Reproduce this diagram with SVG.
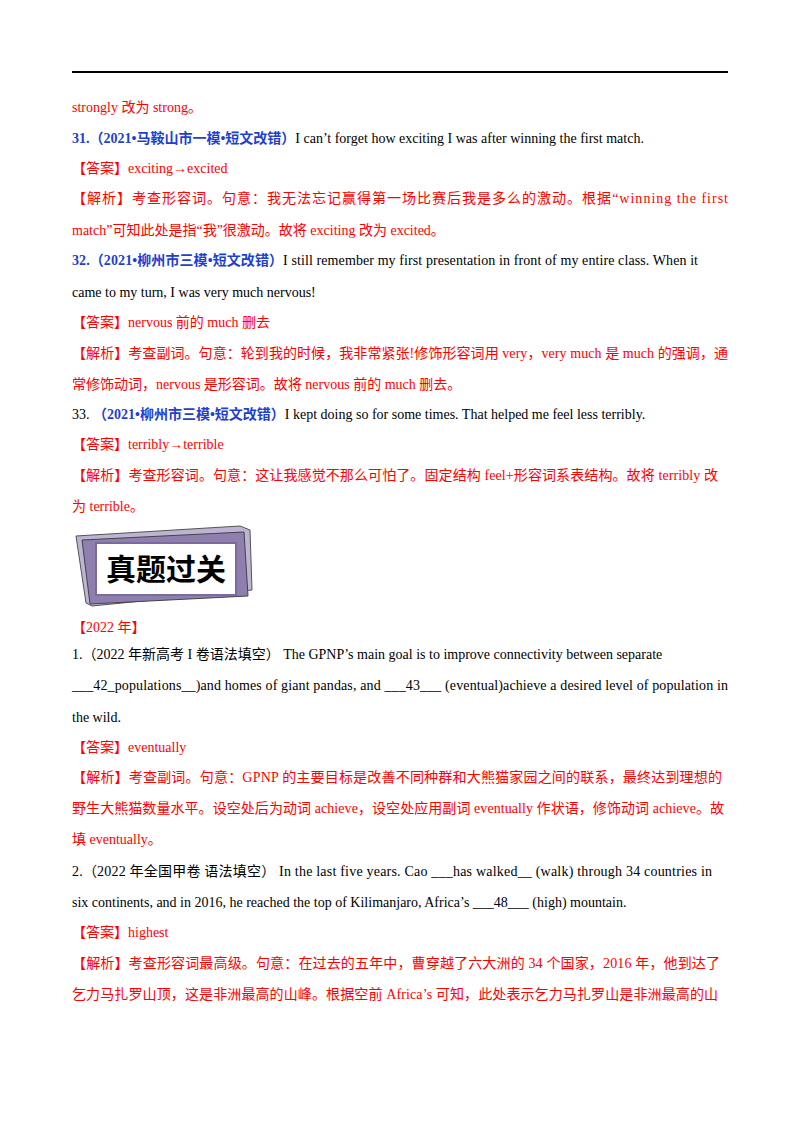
<svg xmlns="http://www.w3.org/2000/svg" width="800" height="1132" viewBox="0 0 800 1132">
<style>
text{font-family:"Liberation Serif","Noto Sans CJK SC",serif;font-size:14px;fill:#000}
.r{fill:#ff0000}
.b{fill:#1f3fd0;font-weight:bold}
</style>
<rect width="800" height="1132" fill="#fff"/>
<line x1="72" y1="72" x2="728" y2="72" stroke="#000" stroke-width="2"/>
<g id="text">
<text class="r" x="72" y="112">strongly 改为 strong。</text>
<text x="72" y="143"><tspan class="b">31.（2021•马鞍山市一模•短文改错）</tspan>I can’t forget how exciting I was after winning the first match.</text>
<text class="r" x="72" y="173">【答案】exciting→excited</text>
<text class="r" x="72" y="203" textLength="656">【解析】考查形容词。句意：我无法忘记赢得第一场比赛后我是多么的激动。根据“winning the first</text>
<text class="r" x="72" y="235">match”可知此处是指“我”很激动。故将 exciting 改为 excited。</text>
<text x="72" y="265" textLength="626"><tspan class="b">32.（2021•柳州市三模•短文改错）</tspan>I still remember my first presentation in front of my entire class. When it</text>
<text x="72" y="297">came to my turn, I was very much nervous!</text>
<text class="r" x="72" y="327">【答案】nervous 前的 much 删去</text>
<text class="r" x="72" y="358" textLength="656">【解析】考查副词。句意：轮到我的时候，我非常紧张!修饰形容词用 very，very much 是 much 的强调，通</text>
<text class="r" x="72" y="389">常修饰动词，nervous 是形容词。故将 nervous 前的 much 删去。</text>
<text x="72" y="419">33.  <tspan class="b">（2021•柳州市三模•短文改错）</tspan>I kept doing so for some times. That helped me feel less terribly.</text>
<text class="r" x="72" y="449">【答案】terribly→terrible</text>
<text class="r" x="72" y="480" textLength="646">【解析】考查形容词。句意：这让我感觉不那么可怕了。固定结构 feel+形容词系表结构。故将 terribly 改</text>
<text class="r" x="72" y="511">为 terrible。</text>
</g>
<g id="banner">
<polygon points="76,536 240,526 250,530 252,590 92,606 86,603" fill="#bdb3d3" stroke="#555" stroke-width="1"/>
<polygon points="82,540 244,532 248,596 90,604" fill="#8e7fae" stroke="#444" stroke-width="1"/>
<rect x="96" y="543" width="140" height="52" fill="#fff" stroke="#7a6a9e" stroke-width="2"/>
<text x="166" y="580" text-anchor="middle" style="font-size:30px;font-weight:bold;font-family:'Noto Sans CJK SC',sans-serif">真题过关</text>
</g>
<g id="text2">
<text class="r" x="72" y="632">【2022 年】</text>
<text x="72" y="659">1.（2022 年新高考 I 卷语法填空）   The GPNP’s main goal is to improve connectivity between separate</text>
<text x="72" y="690" textLength="656">___42_populations__)and homes of giant pandas, and  ___43___  (eventual)achieve a desired level of population in</text>
<text x="72" y="722">the wild.</text>
<text class="r" x="72" y="752">【答案】eventually</text>
<text class="r" x="72" y="782" textLength="650">【解析】考查副词。句意：GPNP 的主要目标是改善不同种群和大熊猫家园之间的联系，最终达到理想的</text>
<text class="r" x="72" y="813" textLength="652">野生大熊猫数量水平。设空处后为动词 achieve，设空处应用副词 eventually 作状语，修饰动词 achieve。故</text>
<text class="r" x="72" y="844">填 eventually。</text>
<text x="72" y="876" textLength="640">2.（2022 年全国甲卷  语法填空）   In the last five years. Cao  ___has walked__  (walk) through 34 countries in</text>
<text x="72" y="907">six continents, and in 2016, he reached the top of Kilimanjaro, Africa’s  ___48___  (high) mountain.</text>
<text class="r" x="72" y="937">【答案】highest</text>
<text class="r" x="72" y="968" textLength="648">【解析】考查形容词最高级。句意：在过去的五年中，曹穿越了六大洲的 34 个国家，2016 年，他到达了</text>
<text class="r" x="72" y="999" textLength="646">乞力马扎罗山顶，这是非洲最高的山峰。根据空前 Africa’s 可知，此处表示乞力马扎罗山是非洲最高的山</text>
</g>
</svg>
